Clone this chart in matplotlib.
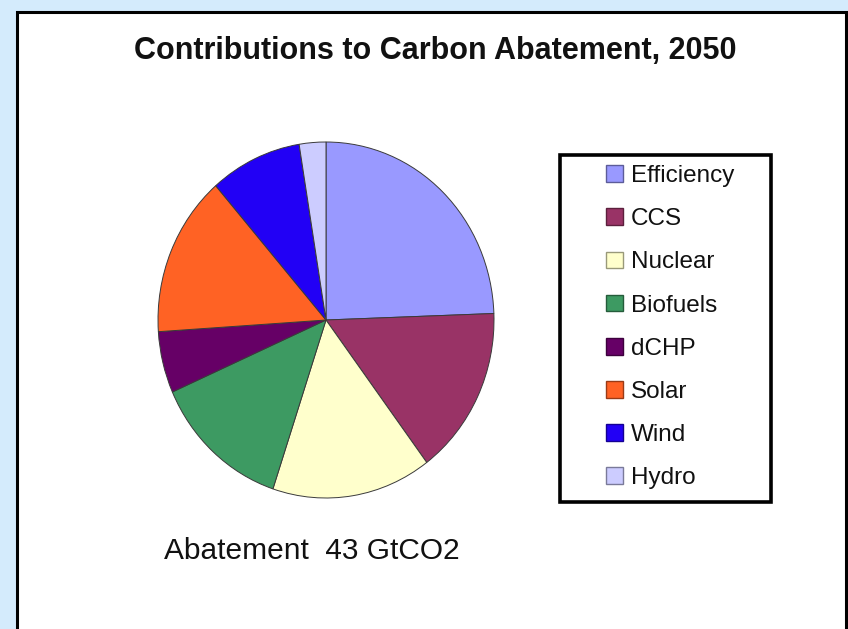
import matplotlib.pyplot as plt
from matplotlib.patches import Rectangle, Patch
from matplotlib.colors import to_rgb

# abatement by source, GtCO2
sources = ['Efficiency', 'CCS', 'Nuclear', 'Biofuels', 'dCHP', 'Solar', 'Wind', 'Hydro']
abatement = [10.5, 6.6, 6.6, 5.7, 2.4, 6.3, 3.8, 1.1]
colors = ['#9999FF', '#993366', '#FFFFCC', '#3D9A62', '#660066', '#FF6224', '#2200F5', '#CCCCFF']

W, H = 848, 629


def fx(px):
    return px / W


def fy(py):
    return 1 - py / H


def darker(c, f=0.6):
    r, g, b = to_rgb(c)
    return (r * f, g * f, b * f)


fig = plt.figure(figsize=(W / 100, H / 100), dpi=100)
fig.patch.set_facecolor('#D4EBFC')
plt.rcParams['font.family'] = ['Liberation Sans', 'DejaVu Sans']

# white chart panel with black border
fig.patches.append(Rectangle((fx(16.5), fy(640)), fx(845.5) - fx(16.5), fy(11.5) - fy(640),
                             transform=fig.transFigure, facecolor='white',
                             edgecolor='black', linewidth=2.2, zorder=-2))

fig.text(fx(435), fy(51), 'Contributions to Carbon Abatement, 2050', ha='center', va='center',
         fontsize=22, fontweight='bold', color='#111111')

# pie is a bit taller than wide in the original, so no equal aspect
cx, cy, rx, ry = 326, 320, 168, 178
ax = fig.add_axes([fx(cx - rx), fy(cy + ry), fx(2 * rx), (2 * ry) / H])
wedges, _ = ax.pie(abatement, colors=colors, startangle=90, counterclock=False,
                   wedgeprops=dict(edgecolor='#3a3a3a', linewidth=0.7))
ax.set_aspect('auto')
ax.set_xlim(-1, 1)
ax.set_ylim(-1, 1)
ax.axis('off')

# legend box
fig.patches.append(Rectangle((fx(559.5), fy(502)), fx(771) - fx(559.5), fy(154.5) - fy(502),
                             transform=fig.transFigure, facecolor='white',
                             edgecolor='black', linewidth=2.6, zorder=-1))
handles = [Patch(facecolor=c, edgecolor=darker(c)) for c in colors]
leg = fig.legend(handles, sources, loc='upper left', bbox_to_anchor=(fx(594), fy(153)),
                 frameon=False, fontsize=17.5, handlelength=0.68, handleheight=0.68,
                 handletextpad=0.35, labelspacing=0.87, borderpad=0)
for t in leg.get_texts():
    t.set_color('#111111')

fig.text(fx(312), fy(551), 'Abatement  %d GtCO2' % round(sum(abatement)), ha='center', va='center',
         fontsize=21.5, color='#111111')

fig.savefig('out.png', dpi=100, facecolor=fig.get_facecolor())
